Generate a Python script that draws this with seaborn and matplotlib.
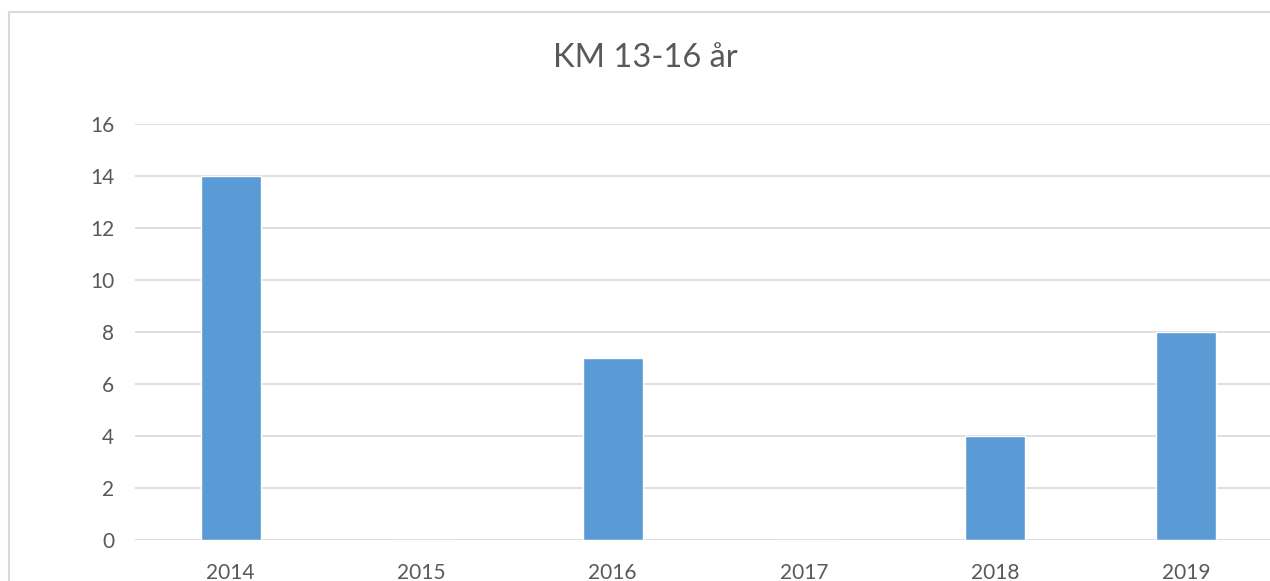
import matplotlib.pyplot as plt
import matplotlib.patches as patches
import pandas as pd
import seaborn as sns

years = ['2014', '2015', '2016', '2017', '2018', '2019']
antal = [14, 0, 7, 0, 4, 8]
title = 'KM 13-16 år'

data = pd.DataFrame({'År': years, 'Antal': antal})

sns.set_style('white')
plt.rcParams['font.family'] = ['Lato', 'DejaVu Sans']
textcol = '#595959'
gridcol = '#d9d9d9'

fig = plt.figure(figsize=(12.7, 5.81), dpi=100)
# plot area runs a bit past the right edge, like the cropped original
ax = fig.add_axes([135 / 1270, 41 / 581, 1146.5 / 1270, 416 / 581])

sns.barplot(x='År', y='Antal', data=data, color='#5B9BD5', width=0.314,
            saturation=1, ax=ax, zorder=3)

ax.set_ylim(0, 16)
ax.set_yticks(range(0, 17, 2))
ax.set_xlim(-0.5, 5.5)
ax.yaxis.grid(True, color=gridcol, linewidth=1.2, zorder=0)
ax.set_axisbelow(True)
for s in ax.spines.values():
    s.set_visible(False)
ax.axhline(0, color=gridcol, linewidth=1.2, zorder=2)
ax.set_xlabel('')
ax.set_ylabel('')
ax.tick_params(axis='both', length=0, labelsize=15, labelcolor=textcol)
ax.tick_params(axis='y', pad=15)
ax.tick_params(axis='x', pad=16.5)

fig.text(645 / 1270, 1 - 58 / 581, title, ha='center', va='center',
         fontsize=23.5, color=textcol)

# chart border (cut off at right and bottom)
fig.patches.append(patches.Rectangle((9 / 1270, -0.1), 1.2, 1.1 - 12 / 581,
                                     transform=fig.transFigure, fill=False,
                                     edgecolor=gridcol, linewidth=1.5))

fig.savefig('out.png', dpi=100)
